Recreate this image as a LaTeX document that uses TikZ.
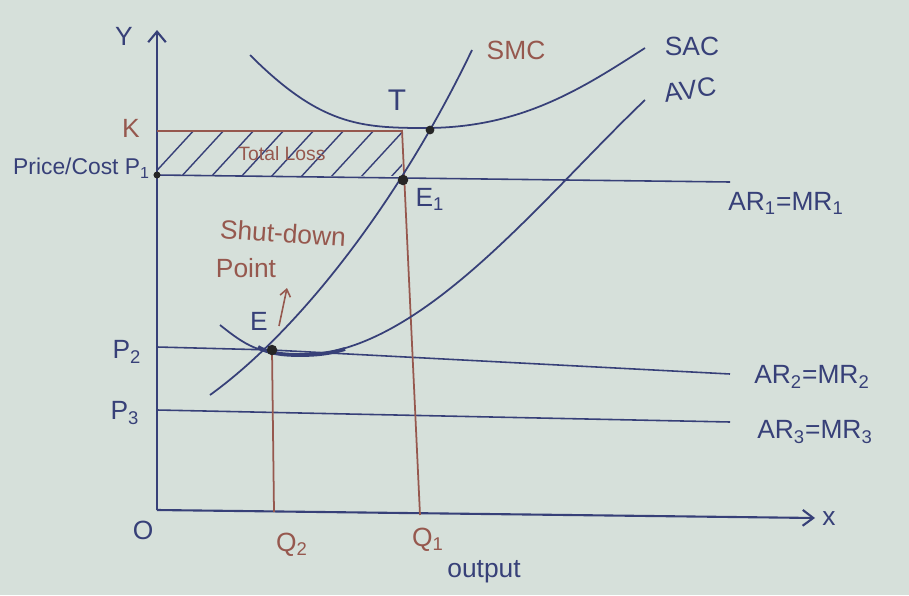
\documentclass[tikz,border=0pt]{standalone}
\usepackage{fontspec}
\setmainfont{Liberation Sans}
\usetikzlibrary{arrows.meta}
\definecolor{bg}{RGB}{214,224,218}
\definecolor{ink}{RGB}{55,64,120}
\definecolor{rink}{RGB}{150,88,78}
\newcommand{\sbs}[1]{\textsubscript{#1}}
\begin{document}
\begin{tikzpicture}[x=0.02cm,y=-0.02cm,
  curve/.style={draw=ink,line width=1pt},
  level/.style={draw=ink,line width=0.9pt},
  drop/.style={draw=rink,line width=1pt},
  lab/.style={text=ink,font=\fontsize{15}{17}\selectfont,inner sep=1pt},
  rlab/.style={text=rink,font=\fontsize{15}{17}\selectfont,inner sep=1pt},
  dot/.style={circle,fill=black!85,inner sep=0pt,minimum size=6pt}]
\fill[bg] (0,0) rectangle (909,595);
\useasboundingbox (0,0) rectangle (909,595);

% key points
\coordinate (O) at (157,510);
\coordinate (Ytop) at (157,30);
\coordinate (Xend) at (815,518);
\coordinate (Kl) at (157,131);
\coordinate (Kr) at (402,131);
\coordinate (P1l) at (157,175);
\coordinate (P1r) at (730,182);
\coordinate (P2l) at (157,347);
\coordinate (P2r) at (730,374);
\coordinate (P3l) at (157,410);
\coordinate (P3r) at (730,422);
\coordinate (Tpt) at (402,130);
\coordinate (Q1) at (420,515);
\coordinate (Ept) at (272,350);
\coordinate (Q2) at (274,512);

% hatching
\begin{scope}
\clip (157,131) rectangle (402,175);
\foreach \x in {150,180,...,420}
  \draw[ink,line width=0.8pt] (\x,178) -- (\x+46,128);
\end{scope}
\node[rlab,font=\fontsize{11}{13}\selectfont] (loss) at (282,154) {Total Loss};

% axes
\draw[ink,line width=1.2pt,-{Straight Barb[length=6pt,width=10pt]}] (O) -- (Ytop);
\draw[ink,line width=1.2pt,-{Straight Barb[length=6pt,width=9pt]}] (O) -- (Xend);

% levels
\draw[drop] (Kl) -- (Kr);
\draw[level] (P1l) -- (P1r);
\draw[level] (P2l) -- (Ept) -- (P2r);
\draw[level] (P3l) -- (P3r);

% drops
\draw[drop] (Tpt) -- (Q1);
\draw[drop] (Ept) -- (Q2);

% curves
\draw[curve] (250,55) .. controls (320,125) and (360,128) .. (425,128)
   .. controls (520,128) and (580,90) .. (645,48);
\draw[curve] (210,395) .. controls (300,330) and (400,200) .. (472,50);
\draw[curve] (220,325) .. controls (245,345) and (260,355) .. (300,355)
   .. controls (420,355) and (540,200) .. (645,100);
\draw[ink,line width=2.2pt] (258,347) .. controls (268,353) and (282,355) .. (300,355) .. controls (318,355) and (332,353) .. (345,349);

% dots
\node[dot] (E1d) at (403,180) {};
\node[dot] (Ed) at (Ept) {};
\node[dot,minimum size=5pt] (Td) at (430,130) {};
\node[dot,minimum size=4pt] (P1d) at (P1l) {};

% shut-down arrow
\coordinate (arrS) at (279,326);
\coordinate (arrE) at (287,288);
\draw[rink,line width=0.9pt,-{Straight Barb[length=4pt,width=6pt]}] (arrS) -- (arrE);

% labels
\node[lab] (Ylab) at (124,36) {Y};
\node[lab] (Xlab) at (829,519) {x};
\node[lab] (Olab) at (143,530) {O};
\node[rlab] (Klab) at (131,128) {K};
\node[lab,anchor=east,font=\fontsize{13}{15}\selectfont] (P1lab) at (152,168) {Price/Cost P\sbs{1}};
\node[lab,font=\fontsize{17}{19}\selectfont] (Tlab) at (397,100) {T};
\node[lab] (E1lab) at (430,199) {E\sbs{1}};
\node[rlab] (SMClab) at (516,50) {SMC};
\node[lab] (SAClab) at (692,46) {SAC};
\node[lab,rotate=8] (AVClab) at (690,90) {AVC};
\node[lab] (AR1) at (786,203) {AR\sbs{1}=MR\sbs{1}};
\node[rlab,rotate=-4] (shut) at (283,233) {Shut-down};
\node[rlab] (point) at (246,268) {Point};
\node[lab] (Elab) at (259,321) {E};
\node[lab] (P2lab) at (127,352) {P\sbs{2}};
\node[lab] (P3lab) at (125,413) {P\sbs{3}};
\node[lab] (AR2) at (812,377) {AR\sbs{2}=MR\sbs{2}};
\node[lab] (AR3) at (815,432) {AR\sbs{3}=MR\sbs{3}};
\node[rlab] (Q2lab) at (292,545) {Q\sbs{2}};
\node[rlab] (Q1lab) at (428,540) {Q\sbs{1}};
\node[lab] (outlab) at (484,572) {output};
\end{tikzpicture}
\end{document}
